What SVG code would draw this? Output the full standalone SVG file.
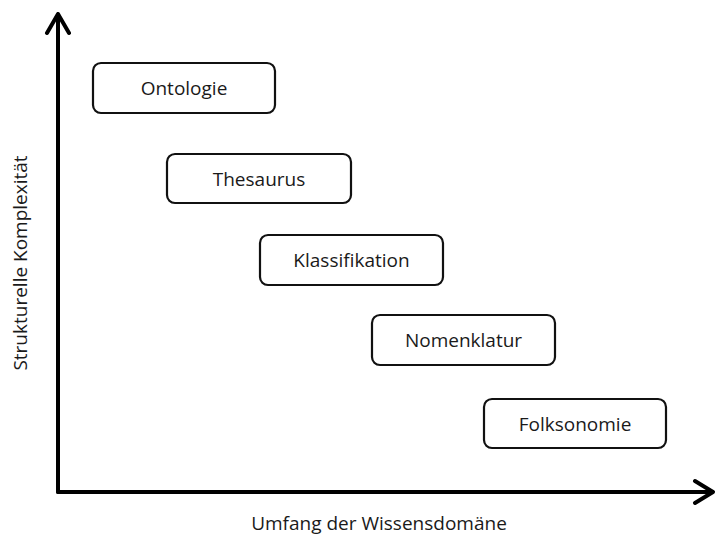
<svg xmlns="http://www.w3.org/2000/svg" width="718" height="537" viewBox="0 0 718 537">
<style>
.box{fill:#fff;stroke:#111;stroke-width:2.2}
.lbl{font-family:"Open Sans","Liberation Sans",sans-serif;font-size:19px;fill:#1a1a1a;text-anchor:middle;dominant-baseline:central}
.axis{fill:none;stroke:#000;stroke-width:4;stroke-linecap:round;stroke-linejoin:round}
</style>
<rect width="718" height="537" fill="#fff"/>
<g id="axes">
<path class="axis" d="M58 492 V14 M47 33 L58 14 L69 33"/>
<path class="axis" d="M58 492 H713 M695 481 L713 492 L695 503"/>
</g>
<g id="ontologie"><rect class="box" x="93" y="63" width="182" height="50" rx="8"/><text class="lbl" x="184" y="88">Ontologie</text></g>
<g id="thesaurus"><rect class="box" x="167" y="154" width="184" height="49" rx="8"/><text class="lbl" x="259" y="178.5">Thesaurus</text></g>
<g id="klassifikation"><rect class="box" x="260" y="235" width="183" height="50" rx="8"/><text class="lbl" x="351.5" y="260">Klassifikation</text></g>
<g id="nomenklatur"><rect class="box" x="372" y="315" width="183" height="50" rx="8"/><text class="lbl" x="463.5" y="340">Nomenklatur</text></g>
<g id="folksonomie"><rect class="box" x="484" y="399" width="182" height="49" rx="8"/><text class="lbl" x="575" y="423.5">Folksonomie</text></g>
<text class="lbl" x="379" y="523">Umfang der Wissensdomäne</text>
<text class="lbl" transform="translate(20 263) rotate(-90)" x="0" y="0">Strukturelle Komplexität</text>
</svg>
